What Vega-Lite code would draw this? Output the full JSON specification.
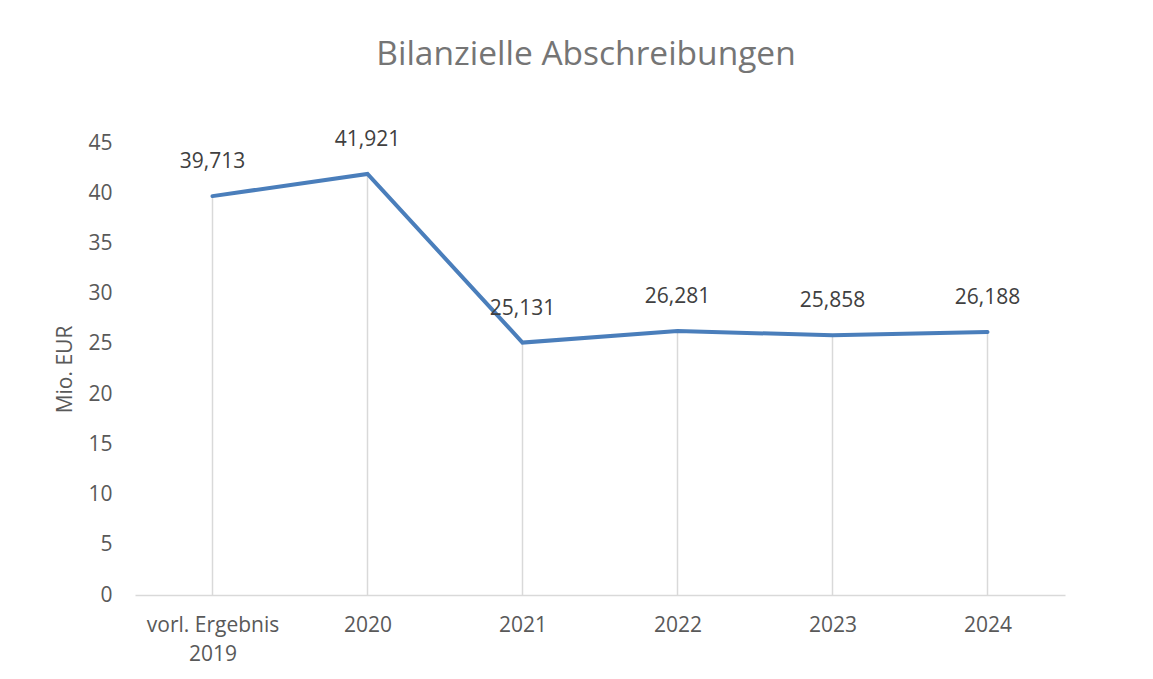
{
  "$schema": "https://vega.github.io/schema/vega-lite/v6.json",
  "width": 930,
  "height": 452,
  "autosize": {"type": "none"},
  "padding": {"left": 135, "top": 143, "right": 88, "bottom": 84},
  "background": "white",
  "config": {
    "font": "Open Sans",
    "view": {"stroke": null},
    "title": {"font": "Open Sans", "fontSize": 33.5, "fontWeight": "normal", "color": "#757575"}
  },
  "title": {"text": "Bilanzielle Abschreibungen", "anchor": "middle", "frame": "group", "dx": -14, "offset": 56},
  "data": {
    "values": [
      {"Jahr": "vorl. Ergebnis 2019", "Wert": 39.713},
      {"Jahr": "2020", "Wert": 41.921},
      {"Jahr": "2021", "Wert": 25.131},
      {"Jahr": "2022", "Wert": 26.281},
      {"Jahr": "2023", "Wert": 25.858},
      {"Jahr": "2024", "Wert": 26.188}
    ]
  },
  "encoding": {
    "x": {
      "field": "Jahr",
      "type": "nominal",
      "sort": null,
      "scale": {"type": "point", "padding": 0.5},
      "axis": {
        "title": null,
        "labelAngle": 0,
        "labelFont": "Open Sans",
        "labelFontSize": 21,
        "labelColor": "#595959",
        "labelPadding": 19,
        "labelLineHeight": 29,
        "ticks": false,
        "grid": false,
        "domainColor": "#d9d9d9",
        "domainWidth": 1.5,
        "labelExpr": "datum.value == 'vorl. Ergebnis 2019' ? ['vorl. Ergebnis', '2019'] : datum.label"
      }
    },
    "y": {
      "field": "Wert",
      "type": "quantitative",
      "scale": {"domain": [0, 45], "nice": false},
      "axis": {
        "title": "Mio. EUR",
        "titleFont": "Open Sans",
        "titleFontSize": 21,
        "titleFontWeight": "normal",
        "titleColor": "#595959",
        "titlePadding": 12,
        "values": [0, 5, 10, 15, 20, 25, 30, 35, 40, 45],
        "labelFont": "Open Sans",
        "labelFontSize": 21,
        "labelColor": "#595959",
        "labelPadding": 23,
        "ticks": false,
        "domain": false,
        "grid": false
      }
    }
  },
  "layer": [
    {
      "mark": {"type": "rule", "color": "#d9d9d9", "strokeWidth": 1.5},
      "encoding": {
        "y2": {"datum": 0}
      }
    },
    {
      "mark": {"type": "line", "color": "#4a7ebb", "strokeWidth": 4, "strokeCap": "round", "strokeJoin": "miter"},
      "encoding": {}
    },
    {
      "mark": {"type": "text", "font": "Open Sans", "fontSize": 21, "color": "#404040", "baseline": "middle", "dy": -34,
        "text": {"expr": "replace(format(datum.Wert, '.3f'), '.', ',')"}},
      "encoding": {}
    }
  ]
}
